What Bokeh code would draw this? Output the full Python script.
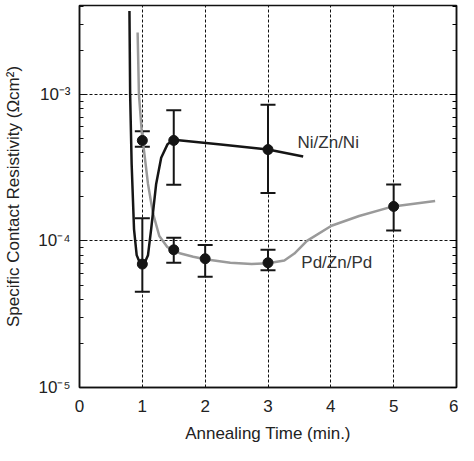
from bokeh.plotting import figure
from bokeh.models import (ColumnDataSource, Whisker, TeeHead, LogAxis, LogTicker,
                          SingleIntervalTicker, CustomJSTickFormatter, Range1d)
from bokeh.core.properties import value
from bokeh.embed import file_html
from bokeh.resources import INLINE

# ---- measured data (annealing time in min., resistivity in ohm cm^2) ----
ni_time = [1.0, 1.5, 3.0]
ni_rho = [6.95e-5, 4.85e-4, 4.2e-4]
ni_rho_hi = [1.43e-4, 7.8e-4, 8.5e-4]
ni_rho_lo = [4.5e-5, 2.42e-4, 2.12e-4]

pd_time = [1.0, 1.5, 2.0, 3.0, 5.0]
pd_rho = [4.85e-4, 8.7e-5, 7.56e-5, 7.1e-5, 1.72e-4]
pd_rho_hi = [5.6e-4, 1.05e-4, 9.4e-5, 8.7e-5, 2.43e-4]
pd_rho_lo = [4.4e-4, 7.1e-5, 5.7e-5, 6.3e-5, 1.18e-4]

# ---- guide curves ----
ni_curve_t = [0.795, 0.806, 0.83, 0.868, 0.91, 0.96, 1.01, 1.05, 1.09, 1.14,
              1.22, 1.30, 1.40, 1.50, 2.25, 3.0, 3.56]
ni_curve_rho = [3.7e-3, 1.0e-3, 3.34e-4, 1.2e-4, 8.0e-5, 7.1e-5, 6.95e-5, 7.3e-5,
                8.0e-5, 1.2e-4, 2.45e-4, 3.7e-4, 4.56e-4, 4.9e-4, 4.55e-4, 4.2e-4, 3.77e-4]

pd_curve_t = [0.925, 0.946, 0.99, 1.04, 1.09, 1.17, 1.27, 1.40, 1.61, 1.81, 2.0,
              2.4, 2.74, 3.0, 3.26, 3.42, 3.62, 4.01, 4.45, 4.99, 5.66]
pd_curve_rho = [2.64e-3, 1.0e-3, 5.6e-4, 3.7e-4, 2.45e-4, 1.54e-4, 1.08e-4, 9.06e-5,
                8.2e-5, 7.8e-5, 7.5e-5, 7.1e-5, 6.97e-5, 7.05e-5, 7.36e-5, 8.2e-5,
                1.0e-4, 1.27e-4, 1.48e-4, 1.72e-4, 1.87e-4]

series_names = ["Ni/Zn/Ni", "Pd/Zn/Pd"]
label_t = [3.47, 3.53]
label_rho = [4.68e-4, 7.18e-5]

x_ticks_interval = 1
x_min, x_max = 0, 6
y_min, y_max = 1e-5, 4.04e-3

FONT = "Liberation Sans"
FS = "17px"

p = figure(width=458, height=445, output_backend="svg", toolbar_location=None,
           y_axis_type="log", x_range=Range1d(x_min, x_max), y_range=Range1d(y_min, y_max),
           min_border_left=79, min_border_right=2, min_border_top=5, min_border_bottom=56)
p.background_fill_color = "white"
p.border_fill_color = "white"
p.outline_line_color = "#111111"
p.outline_line_width = 1.5

sup = CustomJSTickFormatter(code="""
const m = {"-":"\u207b","0":"\u2070","1":"\u00b9","2":"\u00b2","3":"\u00b3","4":"\u2074",
           "5":"\u2075","6":"\u2076","7":"\u2077","8":"\u2078","9":"\u2079"};
const e = Math.round(Math.log10(tick));
return "10" + String(e).split("").map(c => m[c]).join("");
""")
blank = CustomJSTickFormatter(code="return '';")

ylog = LogTicker(num_minor_ticks=10)

# x axis
xa = p.xaxis[0]
xa.ticker = SingleIntervalTicker(interval=x_ticks_interval)
xa.axis_label = "Annealing Time (min.)"
xa.axis_label_text_font = FONT
xa.axis_label_text_font_size = FS
xa.axis_label_text_font_style = "normal"
xa.axis_label_text_color = "#222222"
xa.axis_label_standoff = 9
xa.major_label_text_font = FONT
xa.major_label_text_font_size = FS
xa.major_label_text_color = "#222222"
xa.major_label_standoff = 6
xa.major_tick_line_color = None
xa.minor_tick_line_color = None
xa.axis_line_color = "#111111"
xa.axis_line_width = 1.5

# y axis
ya = p.yaxis[0]
ya.ticker = ylog
ya.formatter = sup
ya.axis_label = "Specific Contact Resistivity (\u03a9cm\u00b2)"
ya.axis_label_text_font = FONT
ya.axis_label_text_font_size = FS
ya.axis_label_text_font_style = "normal"
ya.axis_label_text_color = "#222222"
ya.axis_label_standoff = 12
ya.major_label_text_font = FONT
ya.major_label_text_font_size = FS
ya.major_label_text_color = "#222222"
ya.major_label_standoff = 9
ya.major_tick_in = 6
ya.major_tick_out = 0
ya.minor_tick_in = 4
ya.minor_tick_out = 0
ya.axis_line_color = "#111111"
ya.axis_line_width = 1.5
ya.major_tick_line_color = "#111111"
ya.minor_tick_line_color = "#111111"

ra = LogAxis(ticker=ylog, formatter=blank)
ra.major_label_standoff = 0
ra.major_tick_in = 6
ra.major_tick_out = 0
ra.minor_tick_in = 4
ra.minor_tick_out = 0
ra.axis_line_color = "#111111"
ra.axis_line_width = 1.5
p.add_layout(ra, "right")

# grids
p.xgrid.ticker = SingleIntervalTicker(interval=x_ticks_interval)
p.xgrid.grid_line_color = "#111111"
p.xgrid.grid_line_dash = "3 2"
p.xgrid.grid_line_width = 1
p.ygrid.ticker = ylog
p.ygrid.grid_line_color = "#111111"
p.ygrid.grid_line_dash = "3 2"
p.ygrid.grid_line_width = 1

# curves
p.line(pd_curve_t, pd_curve_rho, line_color="#9a9a9a", line_width=2.5)
p.line(ni_curve_t, ni_curve_rho, line_color="#151515", line_width=2.5)

# error bars
for t, lo, hi in [(ni_time, ni_rho_lo, ni_rho_hi), (pd_time, pd_rho_lo, pd_rho_hi)]:
    src = ColumnDataSource(dict(x=t, lower=lo, upper=hi))
    w = Whisker(source=src, base="x", lower="lower", upper="upper",
                line_color="#151515", line_width=2,
                upper_head=TeeHead(size=15, line_width=2, line_color="#151515"),
                lower_head=TeeHead(size=15, line_width=2, line_color="#151515"))
    p.add_layout(w)

# points
p.scatter(ni_time, ni_rho, size=10, fill_color="#151515", line_color="#151515")
p.scatter(pd_time, pd_rho, size=10, fill_color="#151515", line_color="#151515")

# series labels
p.text(label_t, label_rho, text=series_names, text_font=value(FONT), text_font_size=FS,
       text_color="#333333", text_baseline="middle", text_align="left")

open("out.html", "w").write(file_html(p, INLINE))
